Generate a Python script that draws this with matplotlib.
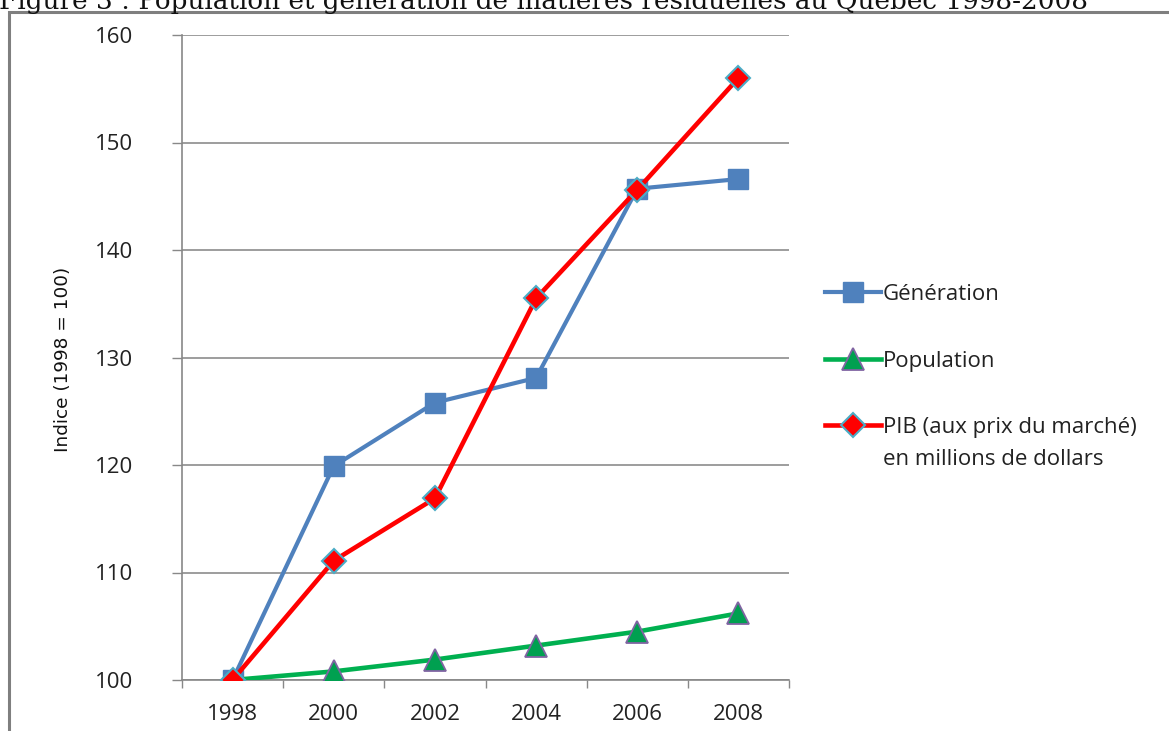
import matplotlib
matplotlib.use("Agg")
import matplotlib.pyplot as plt
from matplotlib.patches import Rectangle

years = ["1998", "2000", "2002", "2004", "2006", "2008"]
generation = [100.0, 119.9, 125.8, 128.1, 145.7, 146.6]
population = [100.0, 100.8, 101.9, 103.2, 104.5, 106.2]
pib = [100.0, 111.1, 116.9, 135.5, 145.6, 156.0]

labels = ["Génération", "Population", "PIB (aux prix du marché)"]
label_cont = "en millions de dollars"
ylabel = "Indice (1998 = 100)"
title = "Figure 3 : Population et génération de matières résiduelles au Québec 1998-2008"

W, H = 1169, 731
fig = plt.figure(figsize=(W / 100, H / 100), dpi=100)
font = ["Open Sans", "DejaVu Sans"]
fs = 16

ax = fig.add_axes([182 / W, 1 - 680 / H, (789 - 182) / W, (680 - 35) / H])
x = list(range(len(years)))

ax.plot(x, generation, color="#4F81BD", lw=3.0, marker="s", markersize=14.5,
        markerfacecolor="#4F81BD", markeredgecolor="#4F81BD", label=labels[0], zorder=3)
ax.plot(x, population, color="#00B050", lw=3.3, marker="^", markersize=16,
        markerfacecolor="#00A050", markeredgecolor="#8064A2", markeredgewidth=1.3,
        label=labels[1], zorder=4)
ax.plot(x, pib, color="#FF0000", lw=3.3, marker="D", markersize=12,
        markerfacecolor="#FF0000", markeredgecolor="#4BACC6", markeredgewidth=1.5,
        label=labels[2], zorder=5)

ax.set_xlim(-0.5, len(years) - 0.5)
ax.set_ylim(100, 160)
ax.set_yticks(range(100, 161, 10))
ax.set_xticks(x)
ax.set_xticklabels(years)
ax.set_xticks([i - 0.5 for i in range(len(years) + 1)], minor=True)
ax.tick_params(axis="x", which="major", length=0, pad=17, labelsize=fs, colors="#222222")
ax.tick_params(axis="x", which="minor", length=6, width=1, color="#888888", direction="out")
ax.tick_params(axis="y", length=7.2, width=1, color="#888888", direction="out",
               labelsize=fs, pad=28, labelcolor="#222222")
for lab in ax.get_xticklabels() + ax.get_yticklabels():
    lab.set_family(font)

ax.grid(axis="y", color="#8C8C8C", lw=1.2)
ax.set_axisbelow(True)
for s in ["top", "right"]:
    ax.spines[s].set_visible(False)
ax.spines["left"].set_color("#888888")
ax.spines["bottom"].set_color("#888888")
ax.spines["left"].set_linewidth(1.2)
ax.spines["bottom"].set_linewidth(1.2)

fig.text(63 / W, 1 - 359 / H, ylabel, rotation=90, ha="center", va="center",
         fontsize=13.3, family=["Liberation Sans Narrow", "DejaVu Sans"], color="#111111")

leg = fig.legend(loc="upper left", bbox_to_anchor=(805 / W, 1 - 264 / H),
                 frameon=False, handlelength=2.5, handletextpad=0.1,
                 labelspacing=2.05, prop={"family": font, "size": fs})
for t in leg.get_texts():
    t.set_color("#222222")

fig.canvas.draw()
bb = leg.get_texts()[2].get_window_extent()
fig.text(bb.x0 / W, (bb.y0 - 32) / H, label_cont, ha="left", va="bottom",
         fontsize=fs, family=font, color="#222222")

t = fig.text(-0.001, 1 - 9 / H, title, ha="left", va="baseline", fontsize=20,
             family=["DejaVu Serif"], color="#111111")
fig.canvas.draw()
w = t.get_window_extent().width
t.set_fontsize(20 * 1087 / w)

fig.add_artist(Rectangle((9 / W, -0.1), 1.2, 1.1 - 12 / H, transform=fig.transFigure,
                         fill=False, edgecolor="#7F7F7F", lw=2.2, clip_on=False))

fig.savefig("out.png", dpi=100)
